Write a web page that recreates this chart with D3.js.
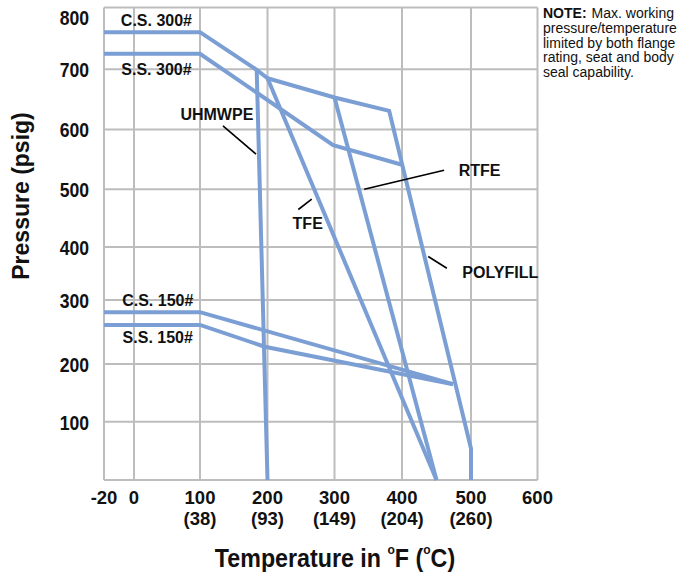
<!DOCTYPE html>
<html>
<head>
<meta charset="utf-8">
<script src="https://cdn.jsdelivr.net/npm/d3@7"></script>
<style>
  html, body { margin: 0; padding: 0; background: #fff; }
  svg { display: block; }
  text { font-family: "Liberation Sans", Arial, sans-serif; fill: #111; }
</style>
</head>
<body>
<svg id="chart" width="681" height="574"></svg>
<script>
// ---------- DATA (°F, psig) ----------
const xTicksF = [-20, 0, 100, 200, 300, 400, 500, 600];
const xTicksC = ["", "", "(38)", "(93)", "(149)", "(204)", "(260)", ""];
const yTicks = [100, 200, 300, 400, 500, 600, 700, 800];

const cs300 = [[-20, 760], [100, 760], [184, 699], [200, 685]];
const ss300 = [[-20, 725], [100, 725], [298, 574], [400, 541]];
const cs150 = [[-20, 281], [100, 281], [474, 165]];
const ss150 = [[-20, 261], [100, 261], [196, 227], [474, 165]];
const uhmwpe = [[184, 699], [200, 0]];
const polyfill = [[200, 685], [300, 653], [381, 631], [500, 54], [500, 0]];
const tfe = [[200, 685], [450, 0]];
const rtfe = [[300, 653], [450, 0]];

const seriesLines = [cs300, ss300, cs150, ss150, uhmwpe, polyfill, tfe, rtfe];

// labels: [text, x°F, psig]
const curveLabels = [
  ["C.S. 300#", 34, 779],
  ["S.S. 300#", 34, 699],
  ["C.S. 150#", 36, 300],
  ["S.S. 150#", 36, 241],
  ["UHMWPE", 125, 625],
  ["TFE", 260, 441],
  ["RTFE", 513, 532],
  ["POLYFILL", 544, 352]
];
// leader lines: [x1, y1, x2, y2] in °F / psig
const leaders = [
  [134, 606, 183, 559],
  [246, 465, 266, 483],
  [344, 500, 461, 532],
  [438, 382, 465, 360]
];

const noteLines = ["pressure/temperature", "limited by both flange", "rating, seat and body", "seal capability."];

// ---------- SCALES ----------
const x = d3.scaleLinear()
  .domain([-20, 0, 100, 200, 300, 400, 500, 600])
  .range([104, 134, 200, 267.5, 334.5, 402, 471, 537.5]);
const y = d3.scaleLinear()
  .domain([0, 100, 200, 300, 400, 500, 600, 700, 800])
  .range([480, 421.7, 364, 300, 247, 189.3, 129.5, 69.2, 7.5]);

const svg = d3.select("#chart");
const grid = "#bdbdbd";
const blue = "#7b9fd4";

// grid
const g = svg.append("g");
g.selectAll("line.v").data(xTicksF).join("line")
  .attr("class", "v")
  .attr("x1", d => x(d)).attr("x2", d => x(d))
  .attr("y1", y(0)).attr("y2", y(800))
  .attr("stroke", grid).attr("stroke-width", 2);
g.selectAll("line.h").data([0].concat(yTicks)).join("line")
  .attr("class", "h")
  .attr("x1", x(-20)).attr("x2", x(600))
  .attr("y1", d => y(d)).attr("y2", d => y(d))
  .attr("stroke", grid).attr("stroke-width", 2);

// Y tick labels (slightly condensed)
svg.append("g").selectAll("text").data(yTicks).join("text")
  .attr("transform", d => `translate(89,${y(d) + (d === 800 ? 11 : 1)}) scale(0.88,1)`)
  .attr("text-anchor", "end")
  .attr("dominant-baseline", "central")
  .attr("font-size", 20).attr("font-weight", "bold")
  .text(d => d);

// X tick labels
const xt = svg.append("g").selectAll("g").data(xTicksF).join("g")
  .attr("transform", d => `translate(${x(d)},0)`);
xt.append("text").attr("y", 497).attr("text-anchor", "middle")
  .attr("dominant-baseline", "central")
  .attr("font-size", 18.5).attr("font-weight", "bold").text(d => d);
xt.append("text").attr("y", 518).attr("text-anchor", "middle")
  .attr("dominant-baseline", "central")
  .attr("font-size", 18.5).attr("font-weight", "bold")
  .text((d, i) => xTicksC[i]);

// curves
const line = d3.line().x(d => x(d[0])).y(d => y(d[1]));
svg.append("g").selectAll("path").data(seriesLines).join("path")
  .attr("d", line)
  .attr("fill", "none").attr("stroke", blue)
  .attr("stroke-width", 4).attr("stroke-linejoin", "miter");

// leaders
svg.append("g").selectAll("line").data(leaders).join("line")
  .attr("x1", d => x(d[0])).attr("y1", d => y(d[1]))
  .attr("x2", d => x(d[2])).attr("y2", d => y(d[3]))
  .attr("stroke", "#000").attr("stroke-width", 1.6);

// curve labels
svg.append("g").selectAll("text").data(curveLabels).join("text")
  .attr("x", d => x(d[1])).attr("y", d => y(d[2]))
  .attr("text-anchor", "middle").attr("dominant-baseline", "central")
  .attr("font-size", 16).attr("font-weight", "bold")
  .text(d => d[0]);

// axis titles
const xt2 = svg.append("text")
  .attr("transform", "translate(335,558) scale(0.93,1)")
  .attr("text-anchor", "middle").attr("dominant-baseline", "central")
  .attr("font-size", 25).attr("font-weight", "bold");
xt2.append("tspan").text("Temperature in ");
xt2.append("tspan").attr("font-size", 13).attr("dy", -8).text("o");
xt2.append("tspan").attr("dy", 8).text("F (");
xt2.append("tspan").attr("font-size", 13).attr("dy", -8).text("o");
xt2.append("tspan").attr("dy", 8).text("C)");

svg.append("text")
  .attr("transform", "translate(21,196) rotate(-90)")
  .attr("text-anchor", "middle").attr("dominant-baseline", "central")
  .attr("font-size", 23).attr("font-weight", "bold")
  .text("Pressure (psig)");

// note
const note = svg.append("g").attr("font-size", 14);
const n1 = note.append("text").attr("x", 543).attr("y", 13.3).attr("dominant-baseline", "central");
n1.append("tspan").attr("font-weight", "bold").text("NOTE:");
n1.append("tspan").attr("dx", 5).text("Max. working");
note.selectAll("text.n").data(noteLines).join("text")
  .attr("class", "n")
  .attr("x", 543).attr("y", (d, i) => 28.3 + i * 14.5)
  .attr("dominant-baseline", "central")
  .text(d => d);
</script>
</body>
</html>
